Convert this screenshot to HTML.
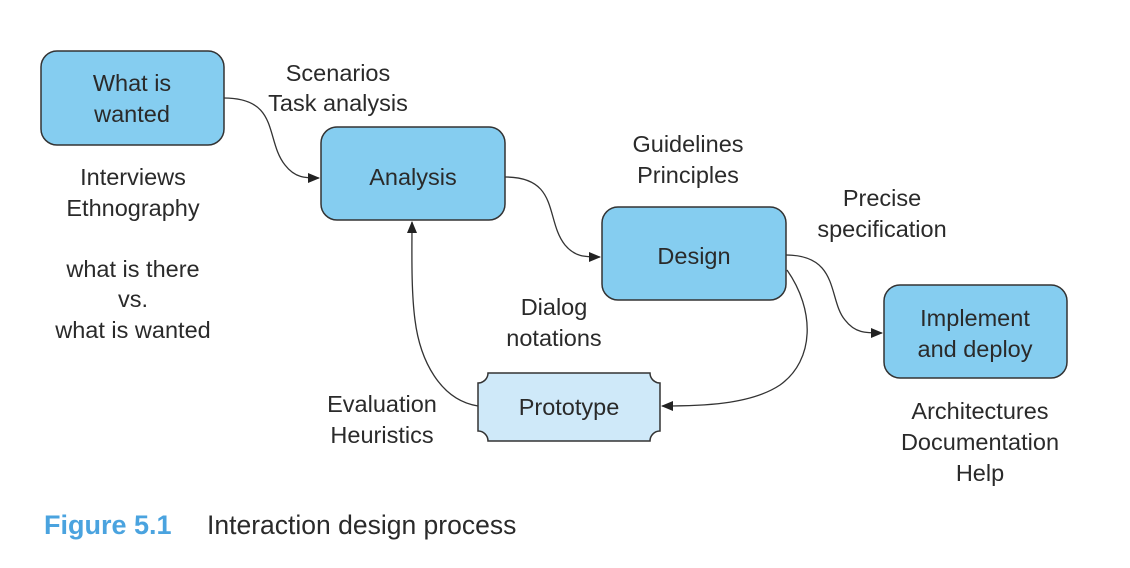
<!DOCTYPE html>
<html><head><meta charset="utf-8"><style>
html,body{margin:0;padding:0;background:#fff;}
svg{display:block;}
text{font-family:"Liberation Sans",sans-serif;fill:#2a2a2a;font-size:23.5px;}
</style></head><body>
<svg width="1130" height="568" viewBox="0 0 1130 568" xmlns="http://www.w3.org/2000/svg">
<defs>
<marker id="a" markerWidth="12" markerHeight="10" refX="11" refY="5" orient="auto" markerUnits="userSpaceOnUse">
<path d="M0,0 L12,5 L0,10 Z" fill="#222"/></marker>
</defs>
<g stroke="#333" stroke-width="1.5" fill="#85cdf0">
<rect x="41" y="51" width="183" height="94" rx="16"/>
<rect x="321" y="127" width="184" height="93" rx="16"/>
<rect x="602" y="207" width="184" height="93" rx="16"/>
<rect x="884" y="285" width="183" height="93" rx="16"/>
<path d="M488,373 H650 A10,10 0 0 0 660,383 V431 A10,10 0 0 0 650,441 H488 A10,10 0 0 0 478,431 V383 A10,10 0 0 0 488,373 Z" fill="#cfe9f9"/>
</g>
<g stroke="#333" stroke-width="1.3" fill="none">
<path d="M224,98 C280,98 265,140 285,165 C295,178 305,178 319,178" marker-end="url(#a)"/>
<path d="M505,177 C560,177 545,220 565,245 C575,257 585,257 600,257" marker-end="url(#a)"/>
<path d="M786,255 C840,255 828,300 845,320 C855,333 865,333 882,333" marker-end="url(#a)"/>
<path d="M787,270 C815,310 815,360 780,385 C750,405 700,406 662,406" marker-end="url(#a)"/>
<path d="M478,406 C440,400 420,360 415,320 C411,290 412,250 412,222" marker-end="url(#a)"/>
</g>
<g text-anchor="middle">
<text x="132" y="91">What is</text>
<text x="132" y="122">wanted</text>
<text x="413" y="185">Analysis</text>
<text x="694" y="264">Design</text>
<text x="975" y="326">Implement</text>
<text x="975" y="357">and deploy</text>
<text x="569" y="415">Prototype</text>
<text x="338" y="81">Scenarios</text>
<text x="338" y="111">Task analysis</text>
<text x="133" y="185">Interviews</text>
<text x="133" y="216">Ethnography</text>
<text x="133" y="277">what is there</text>
<text x="133" y="307">vs.</text>
<text x="133" y="338">what is wanted</text>
<text x="688" y="152">Guidelines</text>
<text x="688" y="183">Principles</text>
<text x="882" y="206">Precise</text>
<text x="882" y="237">specification</text>
<text x="554" y="315">Dialog</text>
<text x="554" y="346">notations</text>
<text x="382" y="412">Evaluation</text>
<text x="382" y="443">Heuristics</text>
<text x="980" y="419">Architectures</text>
<text x="980" y="450">Documentation</text>
<text x="980" y="481">Help</text>
</g>
<text x="44" y="534" style="fill:#4aa3df;font-weight:bold;font-size:27px">Figure 5.1</text>
<text x="207" y="534" style="font-size:26.5px">Interaction design process</text>
</svg>
</body></html>
